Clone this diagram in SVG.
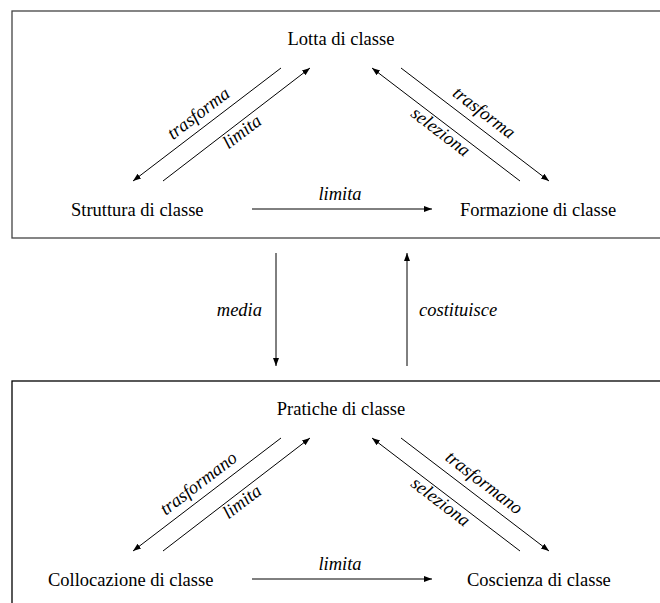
<svg xmlns="http://www.w3.org/2000/svg" width="660" height="603" viewBox="0 0 660 603">
<defs>
<marker id="ah" markerWidth="9" markerHeight="7" refX="8" refY="3" orient="auto" markerUnits="userSpaceOnUse">
<path d="M0,0 L8,3 L0,6 z" fill="#000"/>
</marker>
<style>
.n{font-family:"Liberation Serif","Times New Roman",serif;font-size:18.5px;fill:#000}
.l{font-family:"Liberation Serif","Times New Roman",serif;font-size:18.5px;font-style:italic;fill:#000}
.c{stroke:#000;stroke-width:1;fill:none;marker-end:url(#ah)}
.box{fill:none;stroke-width:1.3}
</style>
</defs>
<rect width="660" height="603" fill="#fff"/>
<g id="box-top"><rect class="box" x="12" y="11" width="660" height="227" stroke="#444"/></g>
<g id="box-bottom"><rect class="box" x="12" y="381" width="660" height="240" stroke="#000"/></g>

<g id="lotta"><text class="n" x="341" y="45" text-anchor="middle">Lotta di classe</text></g>
<g id="struttura"><text class="n" x="71" y="216">Struttura di classe</text></g>
<g id="formazione"><text class="n" x="460" y="216">Formazione di classe</text></g>
<g id="pratiche"><text class="n" x="341" y="415" text-anchor="middle">Pratiche di classe</text></g>
<g id="collocazione"><text class="n" x="48" y="586">Collocazione di classe</text></g>
<g id="coscienza"><text class="n" x="467" y="586">Coscienza di classe</text></g>

<g id="connectors">
<line class="c" x1="281" y1="68" x2="133" y2="181"/>
<line class="c" x1="163" y1="181" x2="310" y2="68"/>
<line class="c" x1="520" y1="181" x2="372" y2="68"/>
<line class="c" x1="401" y1="68" x2="549" y2="181"/>
<line class="c" x1="252" y1="209" x2="432" y2="209"/>
<line class="c" x1="276" y1="253" x2="276" y2="366"/>
<line class="c" x1="407" y1="366" x2="407" y2="253"/>
<line class="c" x1="281" y1="438" x2="133" y2="551"/>
<line class="c" x1="163" y1="551" x2="310" y2="438"/>
<line class="c" x1="520" y1="551" x2="372" y2="438"/>
<line class="c" x1="401" y1="438" x2="549" y2="551"/>
<line class="c" x1="252" y1="579" x2="432" y2="579"/>

<text class="l" text-anchor="middle" transform="translate(202,118) rotate(-37.36)">trasforma</text>
<text class="l" text-anchor="middle" transform="translate(245.6,136.4) rotate(-37.36)">limita</text>
<text class="l" text-anchor="middle" transform="translate(480.5,117.3) rotate(37.36)">trasforma</text>
<text class="l" text-anchor="middle" transform="translate(437,136.4) rotate(37.36)">seleziona</text>
<text class="l" x="340" y="200" text-anchor="middle">limita</text>
<text class="l" x="262" y="316" text-anchor="end">media</text>
<text class="l" x="419" y="316">costituisce</text>
<text class="l" text-anchor="middle" transform="translate(202,488) rotate(-37.36)">trasformano</text>
<text class="l" text-anchor="middle" transform="translate(245.6,506.4) rotate(-37.36)">limita</text>
<text class="l" text-anchor="middle" transform="translate(480.5,487.3) rotate(37.36)">trasformano</text>
<text class="l" text-anchor="middle" transform="translate(437,506.4) rotate(37.36)">seleziona</text>
<text class="l" x="340" y="570" text-anchor="middle">limita</text>
</g>
</svg>
